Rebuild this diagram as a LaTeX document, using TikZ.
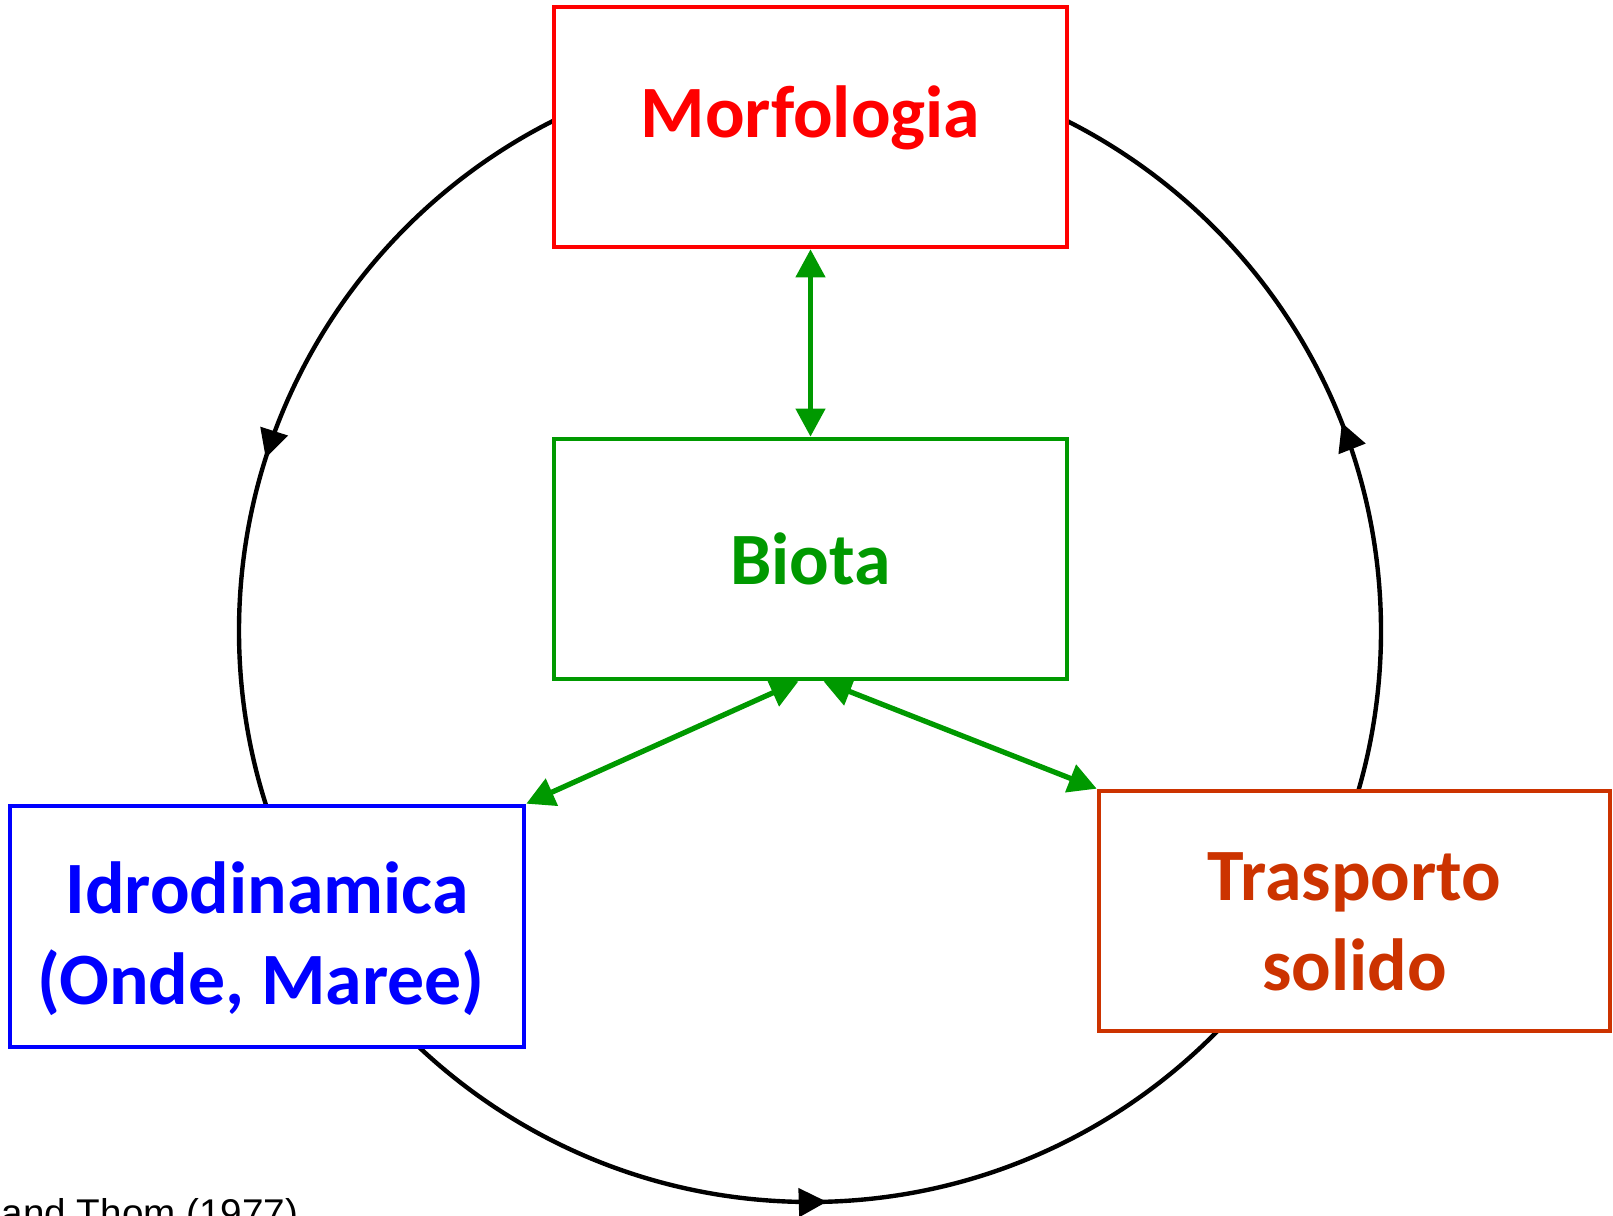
\documentclass[tikz,border=0pt]{standalone}
\usepackage{fontspec}
\setmainfont{Carlito}
\newfontfamily\notefont{Liberation Sans}
\usetikzlibrary{arrows.meta,decorations.markings,backgrounds}
\definecolor{morfored}{RGB}{255,0,0}
\definecolor{biotagreen}{RGB}{0,153,0}
\definecolor{idroblue}{RGB}{0,0,255}
\definecolor{trasporust}{RGB}{204,51,0}
\tikzset{
	box/.style={draw=#1, text=#1, line width=1.3pt, fill=white, minimum width=5.13cm, minimum height=2.40cm,
		inner sep=0pt, align=center, font=\fontsize{21}{25.8}\selectfont\bfseries},
	link/.style={draw=biotagreen, line width=1.5pt,
		{Triangle[length=8pt,width=8.2pt]}-{Triangle[length=8pt,width=8.2pt]}},
	cycletip/.tip={Triangle[length=8pt,width=8pt]}
}

\begin{document}
\begin{tikzpicture}
			%%%%% START %%%%%
			\clip (0,0) rectangle (16.13,12.16);
			
			\node[box=morfored] (morfo) at (8.105,10.89) {\raisebox{0pt}[\height][\dimexpr\depth+0.18cm]{Morfologia}};
			\node[box=biotagreen] (biota) at (8.105,6.57) {Biota};
			\node[box=idroblue, minimum width=5.14cm, minimum height=2.41cm] (idro) at (2.67,2.895) {\\[-4pt]Idrodinamica\hspace*{0.12cm}\\(Onde, Maree)\hspace*{0.12cm}};
			\node[box=trasporust, minimum width=5.11cm] (trasp) at (13.545,3.05) {\\[-6pt]Trasporto\hspace*{0.12cm}\\solido};
			
			\draw[link] (morfo.south) -- (biota.north);
			\draw[link] ([xshift=-0.12cm]biota.south) -- (idro.north east);
			\draw[link] ([xshift=0.13cm]biota.south) -- (trasp.north west);
			
			\begin{scope}[on background layer]
				\draw[line width=1.25pt, postaction={decorate}, decoration={markings,
					mark=at position 0.0594 with {\arrow{cycletip}},
					mark=at position 0.451 with {\arrow{cycletip}},
					mark=at position 0.7547 with {\arrow{cycletip}}}]
					(8.10,5.85) ++(0:5.71) arc[start angle=0, end angle=360, radius=5.71];
			\end{scope}
			
			\node[anchor=base west, inner sep=0pt, font=\notefont\fontsize{11}{13}\selectfont] (note) at (0.01,-0.11) {and Thom (1977)};
			%%%%% END %%%%%
\end{tikzpicture}
\end{document}
